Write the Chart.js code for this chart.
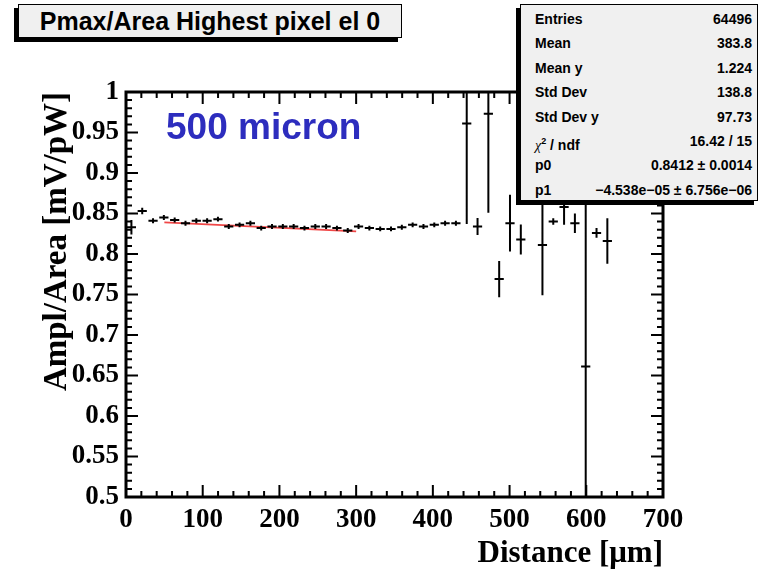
<!DOCTYPE html>
<html>
<head>
<meta charset="utf-8">
<script src="https://cdn.jsdelivr.net/npm/chart.js@4.4.0/dist/chart.umd.min.js"></script>
<style>
  html, body { margin: 0; padding: 0; background: #fff; }
  #wrap { position: relative; width: 758px; height: 577px; overflow: hidden; }
  canvas { position: absolute; left: 0; top: 0; }
  .shadow { position: absolute; background: #000; }
  .pave { position: absolute; background: #f0f0f0; border: 1px solid #000; box-sizing: border-box; }
  #title { font: bold 25px "Liberation Sans", Arial, sans-serif; text-align: center; line-height: 32px; }
  #stats { font: bold 14px "Liberation Sans", Arial, sans-serif; padding: 2px 5px 0 14px; }
  #stats .row { display: flex; justify-content: space-between; height: 24.4px; line-height: 24.4px; }
  #stats .chi { font-family: "Liberation Serif", serif; font-weight: normal; font-style: italic; }
  #label500 { position: absolute; left: 166px; top: 107px; font: bold 37px "Liberation Sans", Arial, sans-serif;
              color: #2d2dbe; line-height: 40px; white-space: nowrap; }
</style>
</head>
<body>
<div id="wrap">
  <canvas id="chart" width="758" height="577"></canvas>
  <div id="label500">500 micron</div>
  <div class="shadow" style="left:14px;top:8px;width:384px;height:34px"></div>
  <div class="pave" id="title" style="left:18px;top:4px;width:384px;height:34px">Pmax/Area Highest pixel el 0</div>
  <div class="shadow" style="left:516px;top:8px;width:238px;height:197px"></div>
  <div class="pave" id="stats" style="left:520px;top:4px;width:238px;height:197px"></div>
</div>
<script>
// profile bins: distance [um], mean ampl/area [mV/pW], error on the mean
const distance = [7.05, 21.15, 35.25, 49.35, 63.45, 77.55, 91.65, 105.75, 119.85, 133.95,
                  148.05, 162.15, 176.25, 190.35, 204.45, 218.55, 232.65, 246.75, 260.85, 274.95,
                  289.05, 303.15, 317.25, 331.35, 345.45, 359.55, 373.65, 387.75, 401.85, 415.95,
                  430.05, 444.15, 458.25, 472.35, 486.45, 500.55, 514.65, 542.85, 556.95, 571.05,
                  585.15, 599.25, 613.35, 627.45];
const ratio = [0.833, 0.853, 0.841, 0.845, 0.842, 0.838, 0.841, 0.841, 0.843, 0.834,
               0.836, 0.838, 0.832, 0.834, 0.834, 0.834, 0.832, 0.834, 0.834, 0.832,
               0.829, 0.834, 0.832, 0.831, 0.831, 0.833, 0.836, 0.834, 0.836, 0.838,
               0.838, 0.961, 0.834, 0.973, 0.769, 0.838, 0.818, 0.811, 0.840, 0.858,
               0.838, 0.661, 0.826, 0.816];
const ratioErr = [0.009, 0.004, 0.003, 0.003, 0.003, 0.003, 0.003, 0.003, 0.003, 0.003,
                  0.003, 0.003, 0.003, 0.003, 0.003, 0.003, 0.003, 0.003, 0.003, 0.003,
                  0.003, 0.003, 0.003, 0.003, 0.003, 0.003, 0.003, 0.003, 0.003, 0.003,
                  0.003, 0.124, 0.0105, 0.122, 0.0225, 0.035, 0.0185, 0.062, 0.004, 0.022,
                  0.012, 0.35, 0.006, 0.028];
const distErr = 6;

// pol1 fit drawn between these ends
const fitX = [50, 300];
const fitY = [0.839, 0.828];

const xTicks = [0, 100, 200, 300, 400, 500, 600, 700];
const xTickLabels = ['0', '100', '200', '300', '400', '500', '600', '700'];
const yTicks = [0.5, 0.55, 0.6, 0.65, 0.7, 0.75, 0.8, 0.85, 0.9, 0.95, 1];
const yTickLabels = ['0.5', '0.55', '0.6', '0.65', '0.7', '0.75', '0.8', '0.85', '0.9', '0.95', '1'];

const statNames = ['Entries', 'Mean', 'Mean y', 'Std Dev', 'Std Dev y', 'CHI', 'p0', 'p1'];
const statValues = ['64496', '383.8', '1.224', '138.8', '97.73', '16.42 / 15',
                    '0.8412 ± 0.0014', '−4.538e−05 ± 6.756e−06'];

// stats box
const statsBox = document.getElementById('stats');
statNames.forEach((name, i) => {
    const row = document.createElement('div');
    row.className = 'row';
    const l = document.createElement('span');
    if (name === 'CHI') {
        l.innerHTML = '<span class="chi">χ</span><sup style="font-size:9px">2</sup> / ndf';
    } else {
        l.textContent = name;
    }
    const r = document.createElement('span');
    r.textContent = statValues[i];
    row.append(l, r);
    statsBox.appendChild(row);
});

// error bars as broken line segments
const vBars = [];
const hBars = [];
distance.forEach((x, i) => {
    vBars.push({ x: x, y: ratio[i] - ratioErr[i] }, { x: x, y: ratio[i] + ratioErr[i] }, { x: x, y: null });
    hBars.push({ x: x - distErr, y: ratio[i] }, { x: x + distErr, y: ratio[i] }, { x: x, y: null });
});

// ROOT style frame with inward ticks on all four sides
const frameTicks = {
    id: 'frameTicks',
    afterDatasetsDraw(chart) {
        const { ctx, chartArea: a, scales: { x, y } } = chart;
        ctx.save();
        ctx.strokeStyle = '#000';
        ctx.lineWidth = 2;
        ctx.beginPath();
        const xMinor = [];
        for (let i = 0; i < xTicks.length - 1; i++) {
            const step = (xTicks[i + 1] - xTicks[i]) / 5;
            for (let j = 1; j < 5; j++) xMinor.push(xTicks[i] + j * step);
        }
        const yMinor = [];
        for (let i = 0; i < yTicks.length - 1; i++) {
            const step = (yTicks[i + 1] - yTicks[i]) / 5;
            for (let j = 1; j < 5; j++) yMinor.push(yTicks[i] + j * step);
        }
        const xt = (v, len) => {
            const px = x.getPixelForValue(v);
            ctx.moveTo(px, a.bottom); ctx.lineTo(px, a.bottom - len);
            ctx.moveTo(px, a.top); ctx.lineTo(px, a.top + len);
        };
        const yt = (v, len) => {
            const py = y.getPixelForValue(v);
            ctx.moveTo(a.left, py); ctx.lineTo(a.left + len, py);
            ctx.moveTo(a.right, py); ctx.lineTo(a.right - len, py);
        };
        xTicks.forEach(v => xt(v, 12));
        xMinor.forEach(v => xt(v, 6));
        yTicks.forEach(v => yt(v, 12));
        yMinor.forEach(v => yt(v, 6));
        ctx.stroke();
        ctx.lineWidth = 3;
        ctx.strokeRect(a.left, a.top, a.right - a.left, a.bottom - a.top);
        ctx.restore();
    }
};

const tickFont = { family: '"Liberation Serif", "Times New Roman", serif', weight: 'bold', size: 27 };

new Chart(document.getElementById('chart'), {
    type: 'line',
    data: {
        datasets: [
            { data: vBars, borderColor: '#000', borderWidth: 2, pointRadius: 0, spanGaps: false },
            { data: hBars, borderColor: '#000', borderWidth: 2, pointRadius: 0, spanGaps: false },
            {
                data: fitX.map((x, i) => ({ x: x, y: fitY[i] })),
                borderColor: 'rgba(238, 50, 50, 0.9)', borderWidth: 1.8, pointRadius: 0
            }
        ]
    },
    options: {
        responsive: false,
        animation: false,
        events: [],
        layout: { padding: { left: 28, right: 95, top: 92, bottom: 0 } },
        plugins: { legend: { display: false }, tooltip: { enabled: false } },
        scales: {
            x: {
                type: 'linear', min: 0, max: 700,
                afterBuildTicks: s => { s.ticks = xTicks.map(v => ({ value: v })); },
                afterFit: s => { s.height = 80; },
                grid: { display: false, drawTicks: false },
                border: { display: false },
                ticks: {
                    font: tickFont, color: '#000', padding: 7, maxRotation: 0, autoSkip: false,
                    callback: (v, i) => xTickLabels[i]
                },
                title: {
                    display: true, text: 'Distance [μm]', align: 'end', color: '#000',
                    font: { family: '"Liberation Serif", "Times New Roman", serif', weight: 'bold', size: 31 },
                    padding: { top: 0, bottom: 4 }
                }
            },
            y: {
                type: 'linear', min: 0.5, max: 1,
                afterBuildTicks: s => { s.ticks = yTicks.map(v => ({ value: v })); },
                afterFit: s => { s.width = 98; },
                grid: { display: false, drawTicks: false },
                border: { display: false },
                ticks: {
                    font: tickFont, color: '#000', padding: 7, autoSkip: false,
                    callback: (v, i) => yTickLabels[i]
                },
                title: {
                    display: true, text: 'Ampl/Area [mV/pW]', align: 'end', color: '#000',
                    font: { family: '"Liberation Serif", "Times New Roman", serif', weight: 'bold', size: 33 },
                    padding: { top: 10, bottom: 0 }
                }
            }
        }
    },
    plugins: [frameTicks]
});
</script>
</body>
</html>
